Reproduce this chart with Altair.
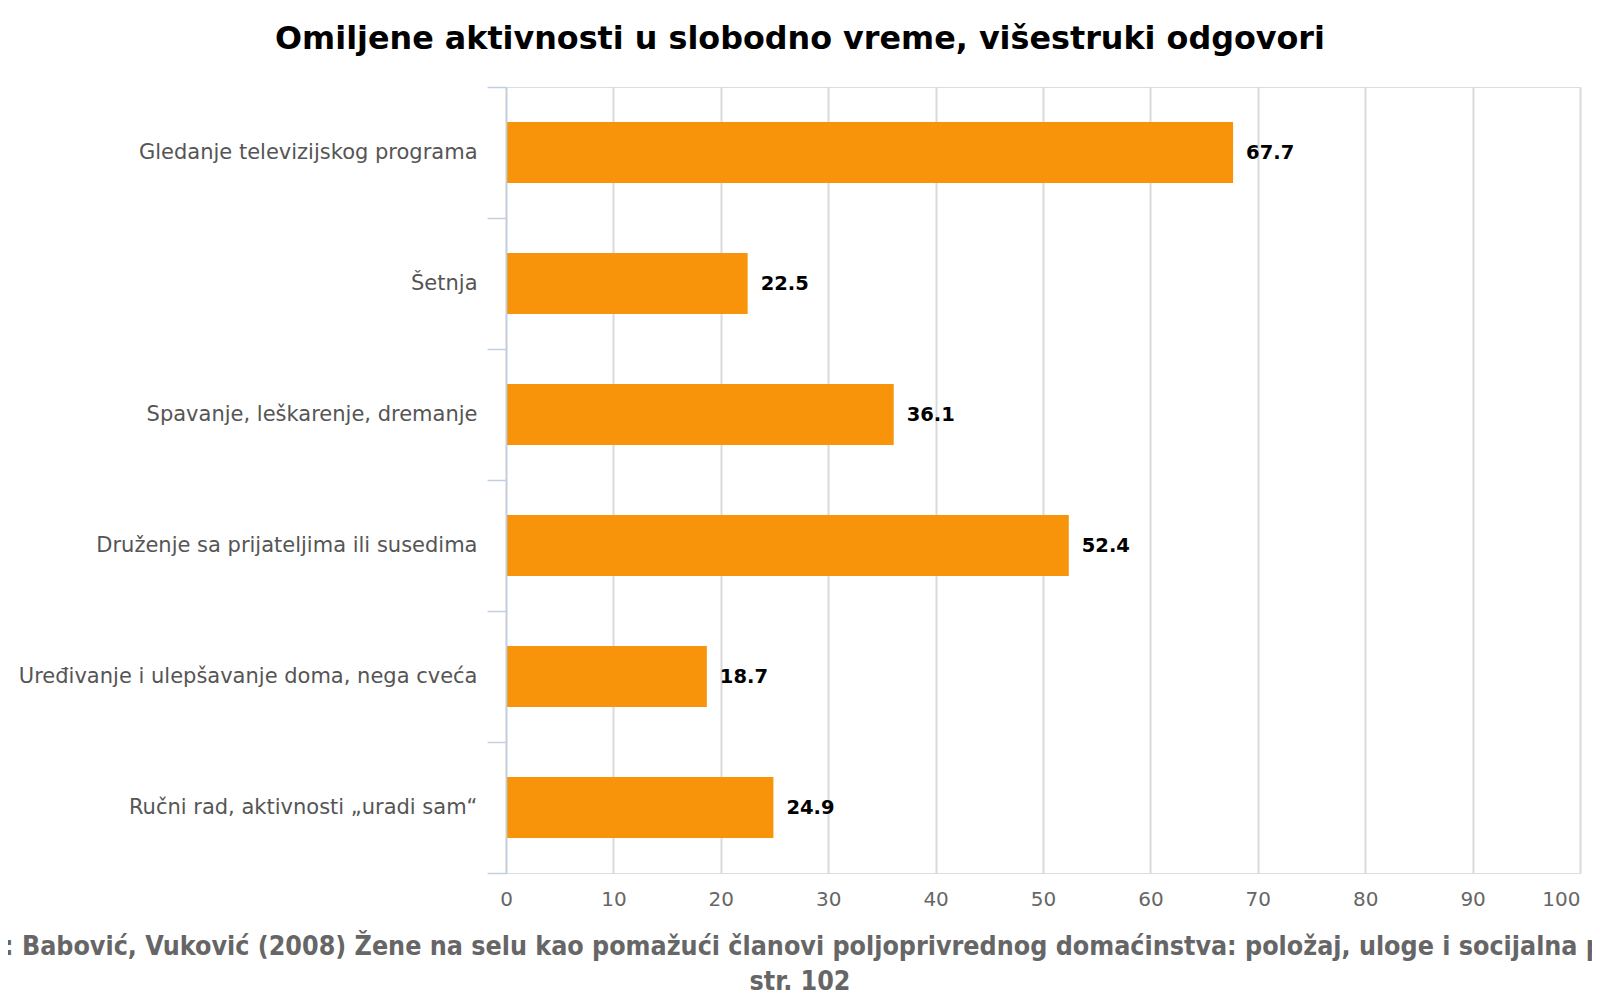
import altair as alt
import pandas as pd

categories = [
    "Gledanje televizijskog programa",
    "Šetnja",
    "Spavanje, leškarenje, dremanje",
    "Druženje sa prijateljima ili susedima",
    "Uređivanje i ulepšavanje doma, nega cveća",
    "Ručni rad, aktivnosti „uradi sam“",
]
values = [67.7, 22.5, 36.1, 52.4, 18.7, 24.9]
value_labels = ["67.7", "22.5", "36.1", "52.4", "18.7", "24.9"]
x_ticks = [0, 10, 20, 30, 40, 50, 60, 70, 80, 90, 100]
title_text = ["Omiljene aktivnosti u slobodno vreme, višestruki odgovori"]
source_line1 = ["Izvor: Babović, Vuković (2008) Žene na selu kao pomažući članovi poljoprivrednog domaćinstva: položaj, uloge i socijalna prava"]
source_line2 = ["str. 102"]

df = pd.DataFrame({"activity": categories, "value": values, "label": value_labels})

PLOT_W, PLOT_H = 1074, 786
PAD_L, PAD_T = 498, 79
PAD_R = 1584 - PAD_L - PLOT_W
PAD_B = 984 - PAD_T - PLOT_H
CX = 792 - PAD_L  # page centre relative to plot

y_enc = alt.Y(
    "activity:N",
    sort=categories,
    scale=alt.Scale(paddingInner=0, paddingOuter=0),
    axis=alt.Axis(
        title=None,
        tickBand="extent",
        domainColor="#c0d0e0",
        domainWidth=1.5,
        tickColor="#c0d0e0",
        tickWidth=1.5,
        tickSize=19,
        labelPadding=10,
        labelFont="DejaVu Sans",
        labelFontSize=21,
        labelColor="#555555",
        labelLimit=700,
        grid=False,
        zindex=1,
    ),
)
x_enc = alt.X(
    "value:Q",
    scale=alt.Scale(domain=[0, 100], nice=False, zero=True),
    axis=alt.Axis(
        title=None,
        values=x_ticks,
        grid=True,
        gridColor="#dadada",
        gridWidth=2,
        domain=False,
        ticks=False,
        labelFont="DejaVu Sans",
        labelFontSize=20,
        labelColor="#666666",
        labelPadding=26,
        labelBaseline="middle",
        labelAlign=alt.condition("datum.value == 100", alt.value("right"), alt.value("center")),
    ),
)

bars = alt.Chart(df).mark_bar(
    color="#f7940a", height=alt.RelativeBandSize(0.466)
).encode(x=x_enc, y=y_enc)

labels = alt.Chart(df).mark_text(
    align="left", baseline="middle", dx=13,
    font="DejaVu Sans", fontWeight="bold", fontSize=19.5, color="#000000",
).encode(x="value:Q", y=alt.Y("activity:N", sort=categories), text="label:N")

title = alt.Chart(pd.DataFrame({"t": title_text})).mark_text(
    align="center", baseline="alphabetic",
    font="DejaVu Sans", fontWeight="bold", fontSize=31.8, color="#000000",
).encode(x=alt.value(CX), y=alt.value(41 - PAD_T), text="t:N")

cap1 = alt.Chart(pd.DataFrame({"t": source_line1})).mark_text(
    align="center", baseline="alphabetic",
    font="DejaVu Sans Condensed", fontWeight="bold", fontSize=26.6, color="#666666",
).encode(x=alt.value(CX), y=alt.value(947 - PAD_T), text="t:N")

cap2 = alt.Chart(pd.DataFrame({"t": source_line2})).mark_text(
    align="center", baseline="alphabetic",
    font="DejaVu Sans Condensed", fontWeight="bold", fontSize=26.6, color="#666666",
).encode(x=alt.value(CX), y=alt.value(982 - PAD_T), text="t:N")

chart = alt.layer(bars, labels, title, cap1, cap2).properties(
    width=PLOT_W,
    height=PLOT_H,
    autosize=alt.AutoSizeParams(type="none"),
    padding={"left": PAD_L, "top": PAD_T, "right": PAD_R, "bottom": PAD_B},
).configure_view(strokeWidth=0).configure(background="white")

chart.save("out.html", embed_options={"renderer": "svg", "actions": False})
